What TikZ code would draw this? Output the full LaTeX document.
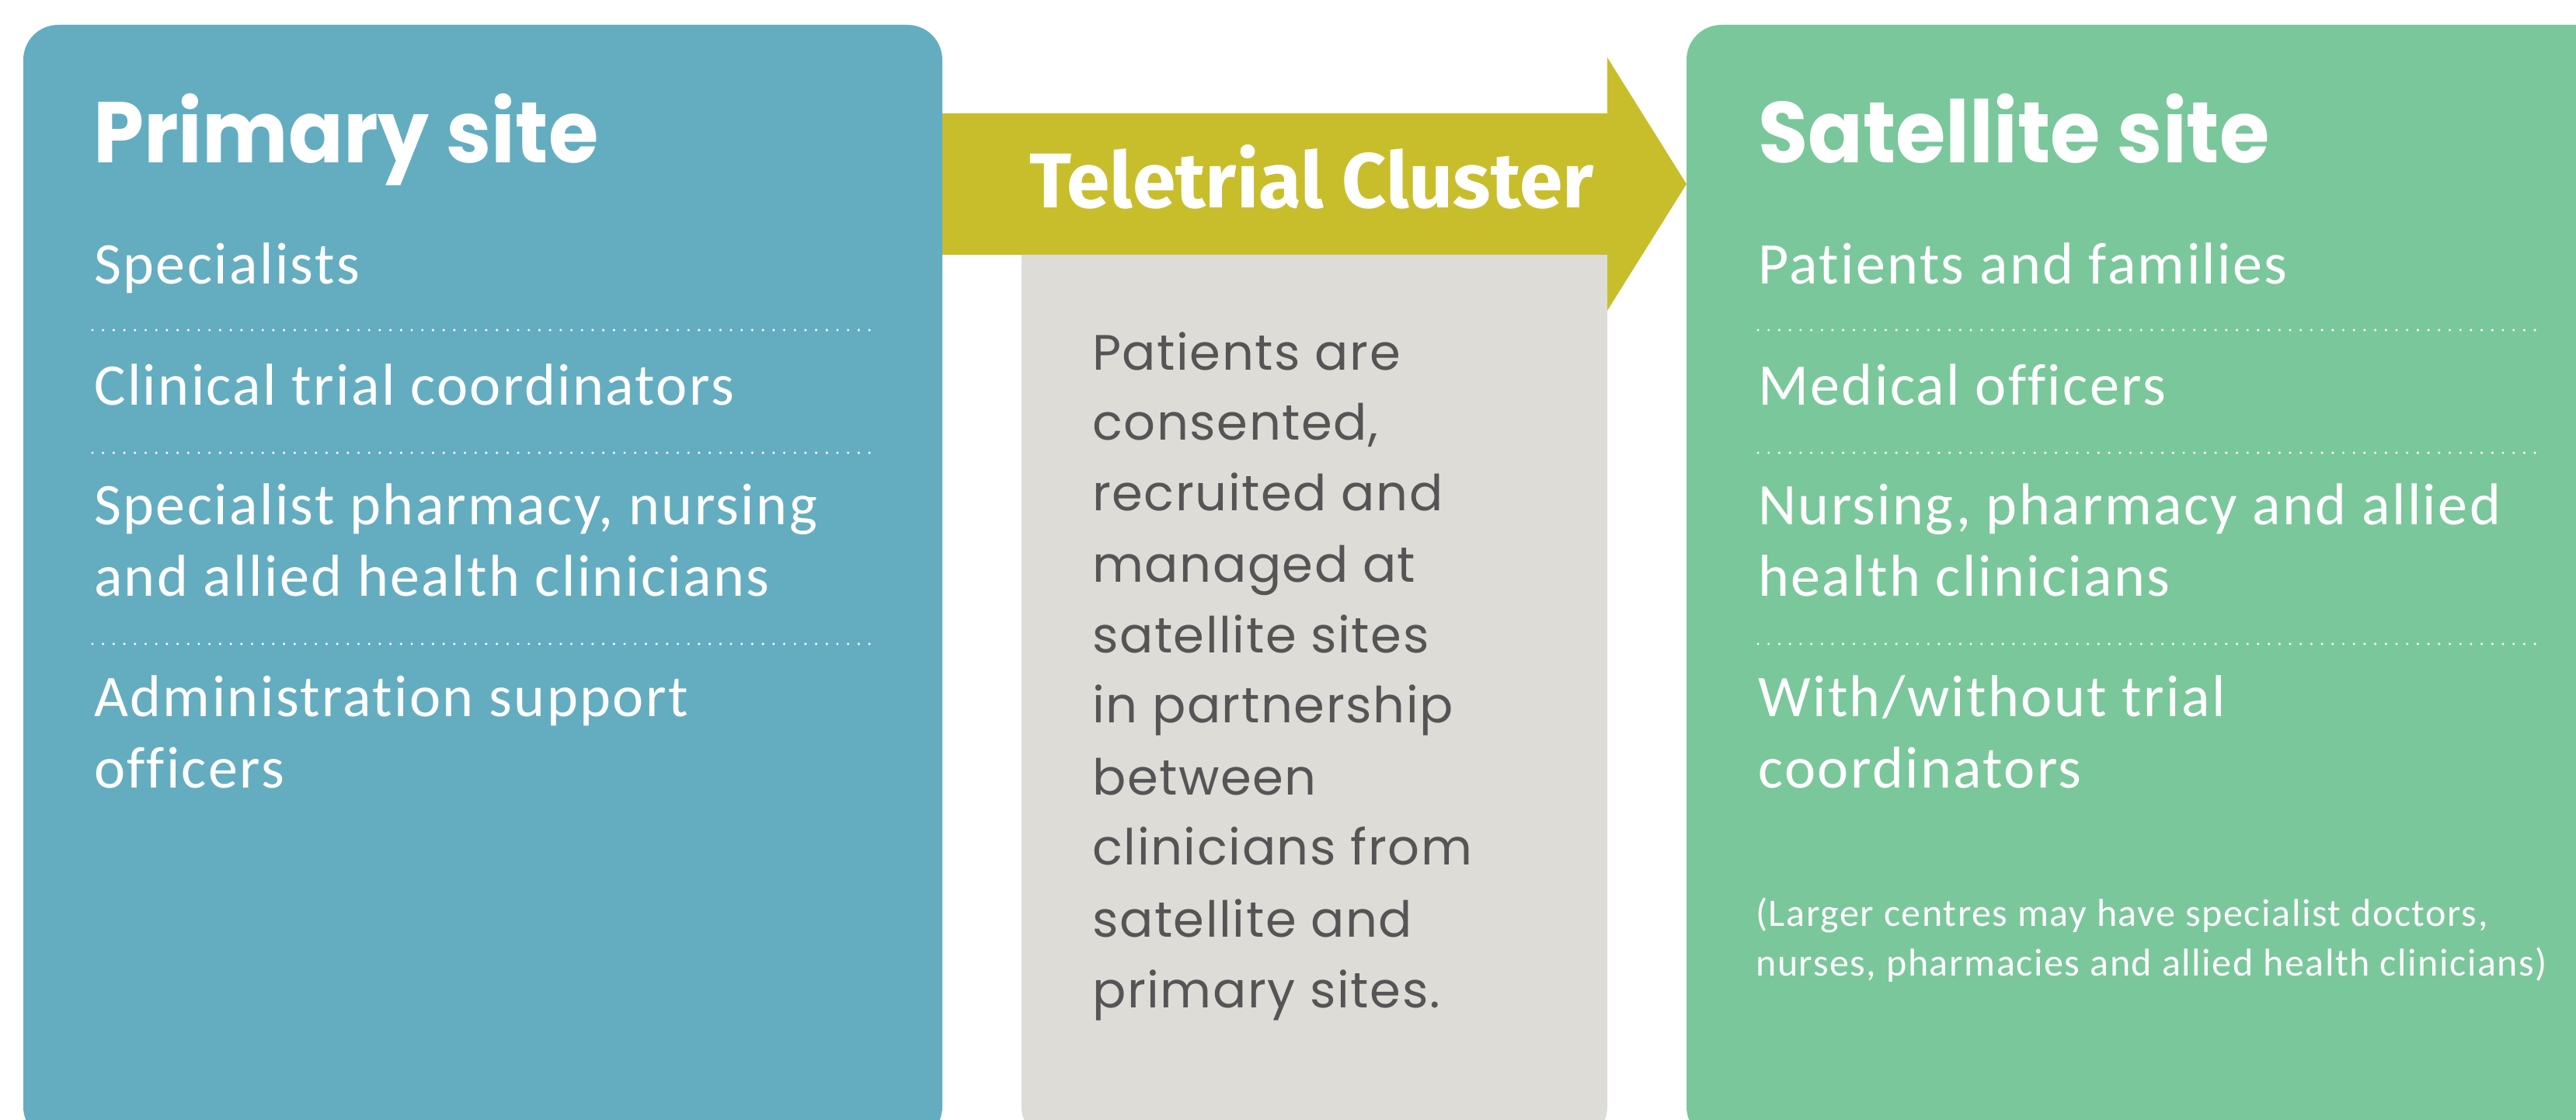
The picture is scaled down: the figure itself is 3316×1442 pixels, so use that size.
\documentclass[tikz,border=0pt]{standalone}
\usepackage{fontspec}
\newfontfamily\titlefont{Poppins}[FakeStretch=0.94]
\newfontfamily\clusterfont{Fira Sans}
\newfontfamily\bodyfont{Carlito}[LetterSpace=3.2, Ligatures={NoCommon}]
\newfontfamily\midfont{Poppins}[LetterSpace=2.5, Ligatures={NoCommon}]
\definecolor{siteblue}{HTML}{64ADC1}
\definecolor{sitegreen}{HTML}{7AC79B}
\definecolor{arrowolive}{HTML}{C8BE2C}
\definecolor{midgray}{HTML}{DDDCD7}
\definecolor{midtext}{HTML}{555555}
\tikzset{
  titletext/.style={anchor=base west, inner sep=0pt, text=white, font=\titlefont\bfseries\fontsize{111}{130}\selectfont},
  bodytext/.style={anchor=base west, inner sep=0pt, text=white, font=\bodyfont\fontsize{76}{92}\selectfont},
  midline/.style={anchor=base west, inner sep=0pt, text=midtext, font=\midfont\fontsize{64}{92}\selectfont},
  smalltext/.style={anchor=base west, inner sep=0pt, text=white, font=\bodyfont\fontsize{50}{60}\selectfont},
  dotrule/.style={white, line width=3.4pt, line cap=round, dash pattern=on 0pt off 13.7pt},
}
\begin{document}
\begin{tikzpicture}[x=1pt,y=-1pt]
\useasboundingbox (0,0) rectangle (3316,1442);
\fill[white] (0,0) rectangle (3316,1442);
\begin{scope}
\clip (0,0) rectangle (3316,1442);
% arrow band with head
\fill[arrowolive] (1180,146) -- (2069,146) -- (2069,74) -- (2171,237) -- (2069,400) -- (2069,328) -- (1180,328) -- cycle;
% middle gray box
\fill[midgray, rounded corners=45pt] (1315,328) -- (1315,1470) -- (2069,1470) -- (2069,328) [sharp corners] -- cycle;
\fill[midgray] (1315,328) rectangle (2069,400);
% primary box
\fill[siteblue] (30,32) [rounded corners=45pt] rectangle (1213,1470);
% satellite box
\fill[sitegreen] (2171,32) [rounded corners=45pt] rectangle (3420,1470);
\end{scope}

% titles
\node[titletext] (ptitle) at (120,210) {Primary site};
\node[titletext] (stitle) at (2263,210) {Satellite site};
\node[anchor=base west, inner sep=0pt, text=white, font=\clusterfont\bfseries\fontsize{100}{110}\selectfont] (ctitle) at (1325,267) {Teletrial Cluster};

% primary list
\node[bodytext] (p1) at (121,365) {Specialists};
\coordinate (pd1a) at (119,425); \coordinate (pd1b) at (1125,425);
\draw[dotrule] (pd1a) -- (pd1b);
\node[bodytext] (p2) at (121,521) {Clinical trial coordinators};
\coordinate (pd2a) at (119,583); \coordinate (pd2b) at (1125,583);
\draw[dotrule] (pd2a) -- (pd2b);
\node[bodytext] (p3a) at (121,675) {Specialist pharmacy, nursing};
\node[bodytext] (p3b) at (121,767) {and allied health clinicians};
\coordinate (pd3a) at (119,829); \coordinate (pd3b) at (1125,829);
\draw[dotrule] (pd3a) -- (pd3b);
\node[bodytext] (p4a) at (121,922) {Administration support};
\node[bodytext] (p4b) at (121,1014) {officers};

% satellite list
\node[bodytext] (s1) at (2263,365) {Patients and families};
\coordinate (sd1a) at (2263,425); \coordinate (sd1b) at (3268,425);
\draw[dotrule] (sd1a) -- (sd1b);
\node[bodytext] (s2) at (2263,521) {Medical officers};
\coordinate (sd2a) at (2263,583); \coordinate (sd2b) at (3268,583);
\draw[dotrule] (sd2a) -- (sd2b);
\node[bodytext] (s3a) at (2263,675) {Nursing, pharmacy and allied};
\node[bodytext] (s3b) at (2263,767) {health clinicians};
\coordinate (sd3a) at (2263,829); \coordinate (sd3b) at (3268,829);
\draw[dotrule] (sd3a) -- (sd3b);
\node[bodytext] (s4a) at (2263,922) {With/without trial};
\node[bodytext] (s4b) at (2263,1014) {coordinators};
\node[smalltext] (n1) at (2260,1192) {(Larger centres may have specialist doctors,};
\node[smalltext] (n2) at (2260,1256) {nurses, pharmacies and allied health clinicians)};

% middle text
\node[midline] (m1) at (1406,476) {Patients are};
\node[midline] (m2) at (1406,566) {consented,};
\node[midline] (m3) at (1406,657) {recruited and};
\node[midline] (m4) at (1406,749) {managed at};
\node[midline] (m5) at (1406,840) {satellite sites};
\node[midline] (m6) at (1406,930) {in partnership};
\node[midline] (m7) at (1406,1023) {between};
\node[midline] (m8) at (1406,1113) {clinicians from};
\node[midline] (m9) at (1406,1206) {satellite and};
\node[midline] (m10) at (1406,1297) {primary sites.};
\end{tikzpicture}
\end{document}
